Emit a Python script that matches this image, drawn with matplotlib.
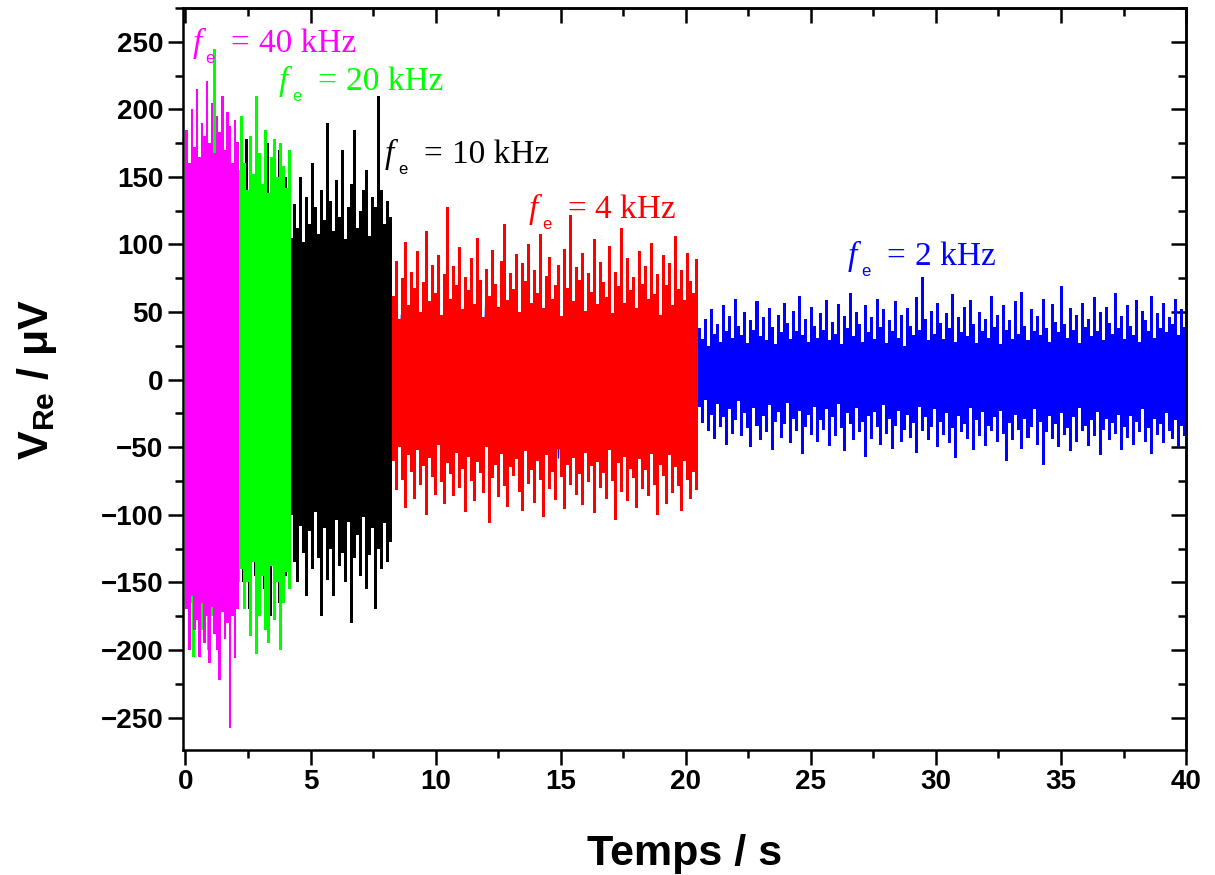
import numpy as np
import matplotlib
matplotlib.use("Agg")
import matplotlib.pyplot as plt
from matplotlib.ticker import MultipleLocator

# ---------------- data ----------------
# segment bounds (s)
mag_span = (0.0, 2.13)
grn_span = (0.0, 4.22)
blk_span = (2.13, 8.25)
red_span = (8.25, 20.5)
blu2_span = (8.25, 20.5)   # blue trace partly hidden under the red one
blu_span = (20.5, 40.0)

# local upper / lower envelope of each trace (µV)
mag_hi = [185, 160, 200, 172, 215, 165, 190, 180, 221, 175, 205, 168, 195, 183,
          210, 170, 198, 188, 160, 192, 176]
mag_lo = [-170, -200, -160, -185, -178, -205, -165, -195, -175, -210, -168, -188,
          -200, -222, -172, -192, -180, -258, -175, -206, -170]

grn_hi = [145, 160, 140, 170, 150, 165, 148, 175, 158, 245, 165, 150, 170, 155,
          162, 148, 172, 155, 195, 160, 140, 180, 152, 210, 168, 145, 185, 138,
          165, 178, 150, 175, 158, 142, 170]
grn_lo = [-150, -165, -205, -170, -160, -185, -155, -200, -175, -160, -150, -170,
          -165, -180, -158, -172, -160, -150, -140, -170, -150, -190, -135, -203,
          -175, -145, -185, -195, -138, -178, -150, -200, -165, -142, -155]

blk_hi = [140, 120, 178, 110, 150, 130, 165, 118, 145, 175, 125, 160, 135, 170,
          120, 150, 140, 105, 130, 112, 150, 102, 135, 115, 160, 128, 108, 140,
          118, 190, 132, 110, 148, 120, 170, 104, 128, 145, 185, 112, 125, 140,
          155, 106, 135, 128, 210, 140, 115, 132, 120]
blk_lo = [-120, -150, -135, -170, -125, -145, -160, -130, -155, -140, -175, -128,
          -150, -165, -135, -145, -130, -100, -135, -150, -108, -128, -160, -112,
          -140, -98, -132, -175, -110, -148, -125, -160, -104, -138, -128, -150,
          -105, -180, -132, -115, -145, -102, -155, -130, -110, -170, -125, -140,
          -106, -135, -120]

red_hi = [62, 88, 45, 75, 102, 55, 80, 68, 95, 50, 72, 110, 58, 85, 64, 92, 48, 78, 128, 60,
          84, 70, 98, 52, 76, 66, 90, 56, 105, 74, 46, 82, 62, 96, 71, 54, 88, 115, 59, 79,
          67, 93, 50, 86, 73, 100, 57, 81, 64, 108, 53, 77, 91, 60, 70, 85, 47, 97, 68, 122,
          58, 83, 74, 94, 51, 79, 65, 104, 56, 87, 72, 61, 99, 49, 80, 69, 112, 57, 90, 66,
          76, 53, 95, 71, 84, 60, 101, 63, 78, 48, 92, 70, 86, 55, 106, 67, 81, 59, 94, 73,
          64, 89]
red_lo = [-60, -82, -50, -74, -95, -56, -68, -88, -52, -78, -64, -100, -58, -72, -85, -48, -76, -92, -62, -70,
          -86, -54, -80, -66, -98, -57, -75, -90, -61, -69, -84, -50, -106, -73, -63, -87, -55, -79, -94, -65,
          -71, -59, -83, -97, -53, -77, -67, -91, -60, -74, -102, -56, -81, -68, -89, -51, -72, -96, -63, -78,
          -58, -85, -70, -93, -54, -76, -64, -99, -61, -80, -69, -88, -52, -75, -104, -62, -83, -57, -90, -66,
          -73, -95, -59, -81, -67, -86, -55, -78, -100, -63, -71, -92, -56, -84, -65, -79, -97, -60, -74, -88,
          -68, -82]

blu2_hi = [30, 48, 25, 55, 38, 44, 28, 60, 35, 50, 26, 46, 58, 32, 40, 53, 29, 45, 36, 57,
           27, 49, 34, 42, 55, 30, 47, 38, 52, 28, 44, 59, 33, 41, 50, 26, 48, 37, 54, 35]
blu2_lo = [-35, -52, -28, -60, -40, -55, -32, -48, -58, -30, -45, -62, -38, -50, -27, -56, -42, -35, -53, -46,
           -30, -58, -40, -48, -33, -55, -44, -60, -36, -50, -29, -47, -57, -41, -34, -52, -45, -38, -56, -43]

blu_hi = [38, 30, 45, 25, 52, 34, 41, 28, 55, 36, 47, 31, 60, 40, 33, 50, 27, 44, 37, 58,
          32, 46, 29, 53, 39, 26, 48, 35, 57, 42, 30, 51, 36, 62, 33, 45, 28, 54, 40, 31,
          49, 37, 59, 29, 43, 34, 56, 26, 47, 38, 64, 32, 50, 41, 28, 55, 35, 46, 30, 60,
          39, 52, 27, 44, 36, 58, 31, 48, 25, 53, 40, 33, 61, 37, 76, 45, 29, 51, 34, 57,
          42, 30, 49, 38, 63, 28, 46, 35, 54, 32, 59, 41, 27, 50, 36, 45, 31, 62, 39, 48,
          26, 55, 37, 44, 30, 58, 34, 65, 40, 29, 52, 36, 47, 33, 60, 38, 28, 56, 43, 35,
          69, 41, 31, 53, 37, 48, 27, 57, 39, 45, 32, 61, 36, 50, 29, 54, 42, 34, 64, 38,
          47, 30, 55, 40, 33, 59, 28, 51, 44, 36, 62, 31, 49, 38, 57, 35, 46, 41, 60, 33,
          52, 39]
blu_lo = [-20, -32, -15, -38, -26, -44, -18, -35, -28, -48, -22, -40, -30, -16, -42, -25, -36, -50, -21, -34,
          -45, -27, -39, -19, -52, -31, -24, -43, -33, -17, -47, -29, -38, -23, -55, -35, -26, -41, -20, -46,
          -30, -37, -22, -49, -28, -42, -18, -36, -53, -25, -33, -45, -21, -39, -31, -57, -27, -44, -24, -35,
          -48, -19, -40, -29, -51, -34, -23, -46, -37, -26, -43, -32, -54, -20, -38, -28, -45, -35, -22, -50,
          -31, -41, -25, -47, -36, -58, -27, -39, -33, -44, -21, -52, -30, -42, -24, -49, -34, -38, -28, -46,
          -23, -40, -60, -32, -45, -26, -37, -51, -29, -43, -35, -22, -48, -31, -63, -39, -27, -44, -33, -50,
          -25, -41, -36, -53, -28, -46, -21, -38, -34, -49, -30, -42, -24, -56, -37, -29, -45, -32, -40, -26,
          -52, -35, -43, -27, -48, -31, -39, -22, -46, -36, -55, -29, -41, -33, -47, -25, -38, -44, -30, -50,
          -34, -42]

labels = ["40 kHz", "20 kHz", "10 kHz", "4 kHz", "2 kHz"]
label_pos = [(0.27, 242.6), (3.74, 214.5), (7.97, 160.5), (13.72, 119.8), (26.48, 85)]
label_colors = ["#FF00FF", "#00FF00", "#000000", "#FF0000", "#0000FF"]

x_ticks = [0, 5, 10, 15, 20, 25, 30, 35, 40]
y_ticks = [-250, -200, -150, -100, -50, 0, 50, 100, 150, 200, 250]

# ---------------- styling ----------------
plt.rcParams.update({
    "font.family": ["Liberation Sans", "DejaVu Sans"],
    "mathtext.fontset": "custom",
    "mathtext.rm": "Liberation Sans:bold",
    "mathtext.it": "Liberation Sans:italic:bold",
    "mathtext.bf": "Liberation Sans:bold",
})

fig = plt.figure(figsize=(12.15, 8.75), dpi=100)
ax = fig.add_axes([0.1506, 0.1429, 0.8256, 0.848])


def trace_arrays(span, hi, lo):
    t0, t1 = span
    n = min(len(hi), len(lo))
    step = (t1 - t0) / n
    tc = t0 + step * (np.arange(n) + 0.5)
    return t0, t1, n, step, tc, np.asarray(hi[:n], float), np.asarray(lo[:n], float)


def draw_band(span, hi, lo, color, z):
    """Envelope drawn as a dense skyline (one column per reading)."""
    t0, t1, n, step, tc, h, l = trace_arrays(span, hi, lo)
    t = np.concatenate([[t0], tc, [t1]])
    h = np.concatenate([[h[0]], h, [h[-1]]])
    l = np.concatenate([[l[0]], l, [l[-1]]])
    ax.fill_between(t, l, h, step="mid", color=color, linewidth=0, zorder=z)


def draw_zigzag(span, hi, lo, color, z):
    t0, t1, n, step, tc, h, l = trace_arrays(span, hi, lo)
    t = np.empty(2 * n)
    v = np.empty(2 * n)
    t[0::2] = tc - step / 4
    t[1::2] = tc + step / 4
    v[0::2] = h
    v[1::2] = l
    ax.plot(t, v, color=color, linewidth=1.0, zorder=z)


draw_zigzag(blu2_span, blu2_hi, blu2_lo, "#0000FF", 1)
draw_band(blu_span, blu_hi, blu_lo, "#0000FF", 1)
draw_band(red_span, red_hi, red_lo, "#FF0000", 2)
draw_band(blk_span, blk_hi, blk_lo, "#000000", 3)
draw_band(grn_span, grn_hi, grn_lo, "#00FF00", 4)
draw_band(mag_span, mag_hi, mag_lo, "#FF00FF", 5)

serif = ["Liberation Serif", "DejaVu Serif"]
for (x, y), lab, color in zip(label_pos, labels, label_colors):
    kw = dict(xycoords="data", textcoords="offset points", color=color,
              va="baseline", zorder=10, annotation_clip=False)
    ax.annotate("f", (x, y), xytext=(0, 0), fontsize=24, family=serif,
                style="italic", ha="left", **kw)
    ax.annotate("e", (x, y), xytext=(9.5, -8), fontsize=12,
                family=["Liberation Sans", "DejaVu Sans"], ha="left", **kw)
    ax.annotate("=", (x, y), xytext=(34.5, 0), fontsize=24, family=serif,
                ha="center", **kw)
    ax.annotate(lab, (x, y), xytext=(48, 0), fontsize=24, family=serif,
                ha="left", **kw)

ax.set_xlim(-0.1, 40)
ax.set_ylim(-274, 275)
ax.set_xticks(x_ticks)
ax.set_yticks(y_ticks)
ax.xaxis.set_minor_locator(MultipleLocator(2.5))
ax.yaxis.set_minor_locator(MultipleLocator(25))

for s in ax.spines.values():
    s.set_linewidth(1.8)

ax.tick_params(which="major", direction="out", length=11, width=1.8,
               labelsize=20, pad=3)
ax.tick_params(which="minor", direction="out", length=6, width=1.8)
for lab in ax.get_xticklabels() + ax.get_yticklabels():
    lab.set_fontweight("bold")

secx = ax.secondary_xaxis("top")
secx.set_xticks(x_ticks)
secx.xaxis.set_minor_locator(MultipleLocator(2.5))
secx.tick_params(which="major", direction="in", length=11, width=1.8,
                 labeltop=False)
secx.tick_params(which="minor", direction="in", length=6, width=1.8)
secx.spines["top"].set_linewidth(1.8)

secy = ax.secondary_yaxis("right")
secy.set_yticks(y_ticks)
secy.yaxis.set_minor_locator(MultipleLocator(25))
secy.tick_params(which="major", direction="in", length=11, width=1.8,
                 labelright=False)
secy.tick_params(which="minor", direction="in", length=6, width=1.8)
secy.spines["right"].set_linewidth(1.8)

ax.set_xlabel("Temps / s", fontsize=31, fontweight="bold", labelpad=28)
ax.set_ylabel(r"$\mathbf{V}_{\mathbf{Re}}$ / μV", fontsize=31,
              fontweight="bold", labelpad=30)

fig.savefig("out.png", dpi=100)
